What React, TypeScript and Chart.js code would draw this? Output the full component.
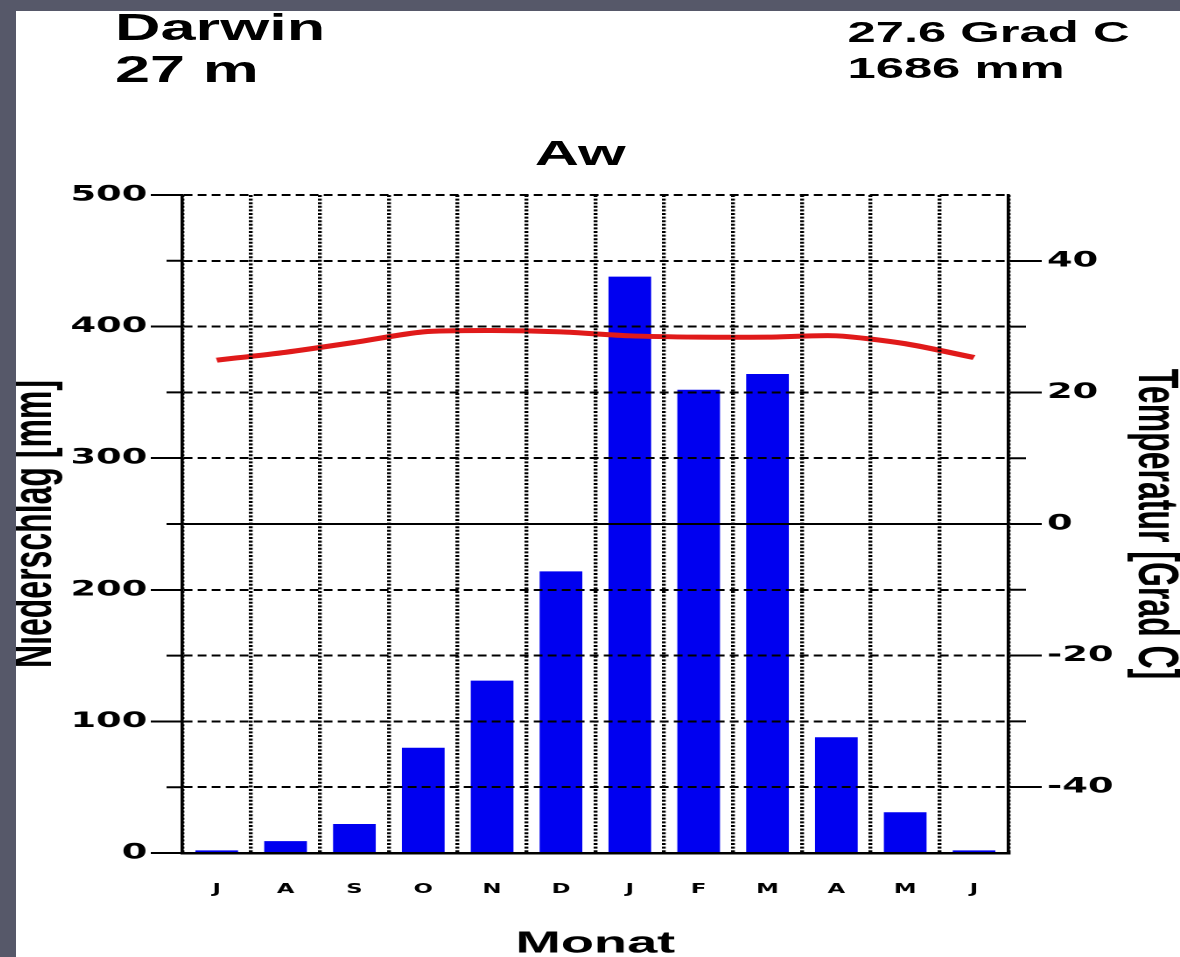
import React, { useEffect, useRef } from 'react';
import { Chart, registerables } from 'chart.js';

Chart.register(...registerables);

// ---- data ----
const MONTHS = ['J', 'A', 'S', 'O', 'N', 'D', 'J', 'F', 'M', 'A', 'M', 'J'];
const PRECIP_MM = [2, 9, 22, 80, 131, 214, 438, 352, 364, 88, 31, 2];
const TEMP_C = [24.9, 26.1, 27.6, 29.2, 29.4, 29.2, 28.6, 28.4, 28.4, 28.6, 27.4, 25.3];

const PRECIP_TICK_LABELS = [0, 100, 200, 300, 400, 500];
const PRECIP_MINOR_TICKS = [50, 150, 250, 350, 450];
const TEMP_TICK_LABELS = [-40, -20, 0, 20, 40];
const TEMP_MINOR_TICKS = [-30, -10, 10, 30];

const STATION = 'Darwin';
const ELEVATION = '27 m';
const MEAN_TEMP = '27.6 Grad C';
const ANNUAL_PRECIP = '1686 mm';
const CLIMATE_CLASS = 'Aw';
const PRECIP_TITLE = 'Niederschlag [mm]';
const TEMP_TITLE = 'Temperatur [Grad C]';
const X_TITLE = 'Monat';

// ---- layout (logical canvas units, stretched horizontally like the reference) ----
const W = 665;
const H = 946;
const K = 1164 / W;

const SANS = '"Liberation Sans", Arial, Helvetica, sans-serif';
const TICKFONT = '"DejaVu Sans", "Liberation Sans", sans-serif';

const minorTicks = {
  id: 'minorTicks',
  afterDraw(chart: any) {
    const { ctx, chartArea, scales } = chart;
    ctx.save();
    ctx.strokeStyle = '#000';
    ctx.lineWidth = 2;
    ctx.beginPath();
    PRECIP_MINOR_TICKS.forEach((v) => {
      const y = scales.y.getPixelForValue(v);
      ctx.moveTo(chartArea.left - 9, y);
      ctx.lineTo(chartArea.left, y);
    });
    TEMP_MINOR_TICKS.forEach((v) => {
      const y = scales.y1.getPixelForValue(v);
      ctx.moveTo(chartArea.right, y);
      ctx.lineTo(chartArea.right + 10, y);
    });
    ctx.stroke();
    ctx.restore();
  },
};

function ClimateChart() {
  const ref = useRef<HTMLCanvasElement | null>(null);

  useEffect(() => {
    if (!ref.current) return;
    const chart = new Chart(ref.current, {
      type: 'bar',
      data: {
        labels: MONTHS,
        datasets: [
          {
            type: 'line',
            label: 'Temperatur',
            data: TEMP_C,
            yAxisID: 'y1',
            borderColor: '#e01a1a',
            borderWidth: 5,
            pointRadius: 0,
            tension: 0.25,
            fill: false,
            order: 0,
          } as any,
          {
            type: 'bar',
            label: 'Niederschlag',
            data: PRECIP_MM,
            yAxisID: 'y',
            backgroundColor: '#0000f0',
            borderWidth: 0,
            barPercentage: 0.62,
            categoryPercentage: 1,
            order: 1,
          },
        ],
      },
      options: {
        animation: false,
        responsive: false,
        devicePixelRatio: 2,
        layout: { padding: { top: 184, left: 0, right: 0, bottom: 0 } },
        plugins: {
          legend: { display: false },
          tooltip: { enabled: false },
          title: { display: false },
        },
        scales: {
          x: {
            offset: true,
            grid: {
              offset: true,
              display: true,
              drawTicks: false,
              color: '#000',
              lineWidth: 2.2,
              z: 1,
            },
            border: { display: true, color: '#000', width: 2.5, dash: [2, 1.6], z: 2 },
            ticks: {
              font: { family: TICKFONT, size: 13, weight: 'bold' },
              color: '#000',
              padding: 29,
              autoSkip: false,
              maxRotation: 0,
            },
            title: {
              display: true,
              text: X_TITLE,
              color: '#000',
              font: { family: SANS, size: 31, weight: 'bold', lineHeight: 1.2 },
              padding: { top: 0, bottom: -5.6 },
            },
            afterFit: (s: any) => {
              s.height = 104;
            },
          },
          y: {
            position: 'left',
            min: 0,
            max: 500,
            ticks: {
              stepSize: 50,
              autoSkip: false,
              padding: 2,
              color: '#000',
              font: { family: TICKFONT, size: 21, weight: 'bold' },
              callback: (v: any) => (PRECIP_TICK_LABELS.includes(Number(v)) ? String(v) : ''),
            },
            grid: {
              color: '#000',
              lineWidth: 2,
              tickLength: 18,
              tickWidth: 2,
              tickColor: (c: any) =>
                c.tick && PRECIP_TICK_LABELS.includes(c.tick.value) ? '#000' : 'rgba(0,0,0,0)',
              z: 1,
            },
            border: {
              display: true,
              color: '#000',
              width: 1.8,
              dash: (c: any) => (c.tick && c.tick.value === 250 ? [] : [5, 3]),
              z: 2,
            },
            title: {
              display: true,
              text: PRECIP_TITLE,
              color: '#000',
              font: { family: SANS, size: 32, weight: 'bold', lineHeight: 1 },
              padding: { top: -5, bottom: 0 },
            },
            afterFit: (s: any) => {
              s.width = 95;
            },
          },
          y1: {
            position: 'right',
            min: -50,
            max: 50,
            ticks: {
              stepSize: 10,
              autoSkip: false,
              padding: 3,
              color: '#000',
              font: { family: TICKFONT, size: 21, weight: 'bold' },
              callback: (v: any) => (TEMP_TICK_LABELS.includes(Number(v)) ? String(v) : ''),
            },
            grid: {
              drawOnChartArea: false,
              tickLength: 19,
              tickWidth: 2,
              tickColor: (c: any) =>
                c.tick && TEMP_TICK_LABELS.includes(c.tick.value) ? '#000' : 'rgba(0,0,0,0)',
            },
            border: { display: true, color: '#000', width: 1.8, z: 2 },
            title: {
              display: true,
              text: TEMP_TITLE,
              color: '#000',
              font: { family: SANS, size: 32, weight: 'bold', lineHeight: 1 },
              padding: { top: -1.5, bottom: 0 },
            },
            afterFit: (s: any) => {
              s.width = 98;
            },
          },
        },
      } as any,
      plugins: [minorTicks],
    });
    return () => chart.destroy();
  }, []);

  return (
    <canvas
      ref={ref}
      width={W}
      height={H}
      style={{ display: 'block', width: W + 'px', height: H + 'px' }}
    />
  );
}

export default function App() {
  const textBase: React.CSSProperties = {
    position: 'absolute',
    fontFamily: SANS,
    fontWeight: 'bold',
    color: '#000',
    whiteSpace: 'nowrap',
  };
  return (
    <div
      style={{
        position: 'fixed',
        left: 0,
        top: 0,
        width: 1180,
        height: 957,
        background: '#565869',
        overflow: 'hidden',
      }}
    >
      <div
        style={{
          position: 'absolute',
          left: 16,
          top: 11,
          width: 1164,
          height: 946,
          background: '#ffffff',
          overflow: 'hidden',
        }}
      >
        <div
          style={{
            position: 'absolute',
            left: 0,
            top: 0,
            width: W,
            height: H,
            transform: `scaleX(${K})`,
            transformOrigin: '0 0',
          }}
        >
          <ClimateChart />
          <div style={{ ...textBase, left: 56.6, top: -4.5, fontSize: 36, lineHeight: '42px' }}>
            <div>{STATION}</div>
            <div>{ELEVATION}</div>
          </div>
          <div style={{ ...textBase, left: 475, top: 3, fontSize: 29, lineHeight: '36px' }}>
            <div>{MEAN_TEMP}</div>
            <div>{ANNUAL_PRECIP}</div>
          </div>
          <div
            style={{
              ...textBase,
              left: 322.3 - 100,
              width: 200,
              textAlign: 'center',
              top: 122,
              fontSize: 35,
              lineHeight: '40px',
            }}
          >
            {CLIMATE_CLASS}
          </div>
        </div>
      </div>
    </div>
  );
}
